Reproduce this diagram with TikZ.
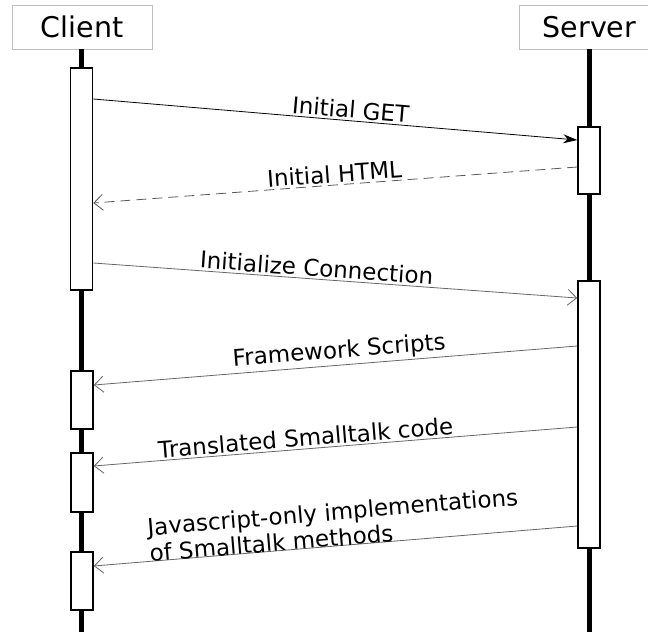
\documentclass[tikz,border=0pt]{standalone}
\usepackage{fontspec}
\setmainfont{DejaVu Sans}
\usetikzlibrary{arrows.meta}
\begin{document}
\begin{tikzpicture}[x=1pt,y=-1pt,
  header/.style={draw=black!25, line width=1pt, fill=white, inner sep=0pt, minimum height=44pt, font=\fontsize{28.5}{30}\selectfont},
  lifeline/.style={line width=5pt},
  act/.style={draw=black, line width=1.6pt, fill=white, inner sep=0pt, minimum width=22pt},
  msgfont/.style={font=\fontsize{23}{26}\selectfont},
  call/.style={line width=0.8pt, -{Stealth[length=14pt,width=9pt]}},
  reply/.style={line width=0.8pt, draw=black!65, dash pattern=on 10pt off 6pt, -{Straight Barb[length=9pt,width=16pt,line width=0.8pt]}},
  async/.style={line width=0.8pt, draw=black!60, -{Straight Barb[length=9pt,width=16pt,line width=0.8pt]}},
  lbl/.style={msgfont, sloped, above, inner sep=2pt}
]
\useasboundingbox (0,0) rectangle (648,632);
% headers
\node[header, minimum width=140pt] (client) at (82,27) {Client};
\node[header, minimum width=140pt, anchor=west] (server) at (519,27) {Server};
% lifelines
\coordinate (ctop) at (81,49);
\coordinate (stop) at (589,49);
\coordinate (cbot) at (81,632);
\coordinate (sbot) at (589,632);
\draw[lifeline] (ctop) -- (cbot);
\draw[lifeline] (stop) -- (sbot);
% activations
\node[act, minimum height=222pt] (ca1) at (81.5,179) {};
\node[act, minimum height=67pt] (sa1) at (589,160.5) {};
\node[act, minimum height=267pt] (sa2) at (589,414.5) {};
\node[act, minimum height=58pt] (ca2) at (82,400) {};
\node[act, minimum height=59pt] (ca3) at (82,482.5) {};
\node[act, minimum height=58pt] (ca4) at (82,581) {};
% endpoints
\coordinate (m1s) at (ca1.east |- 0,99);   \coordinate (m1e) at (sa1.west |- 0,140);
\coordinate (m2s) at (sa1.west |- 0,167);  \coordinate (m2e) at (ca1.east |- 0,203);
\coordinate (m3s) at (ca1.east |- 0,263);  \coordinate (m3e) at (sa2.west |- 0,298);
\coordinate (m4s) at (sa2.west |- 0,346);  \coordinate (m4e) at (ca2.east |- 0,385);
\coordinate (m5s) at (sa2.west |- 0,427);  \coordinate (m5e) at (ca3.east |- 0,466);
\coordinate (m6s) at (sa2.west |- 0,526);  \coordinate (m6e) at (ca4.east |- 0,566);
% messages
\draw[call] (m1s) -- node[lbl, pos=0.53] {Initial GET} (m1e);
\draw[reply] (m2s) -- node[lbl, pos=0.5] {Initial HTML} (m2e);
\draw[async] (m3s) -- node[lbl, pos=0.46] {Initialize Connection} (m3e);
\draw[async] (m4s) -- node[lbl, pos=0.49] {Framework Scripts} (m4e);
\draw[async] (m5s) -- node[lbl, pos=0.56] {Translated Smalltalk code} (m5e);
\draw[async] (m6s) -- node[lbl, pos=0.50, align=left, above=-3pt] {Javascript-only implementations\\of Smalltalk methods} (m6e);
\end{tikzpicture}
\end{document}
